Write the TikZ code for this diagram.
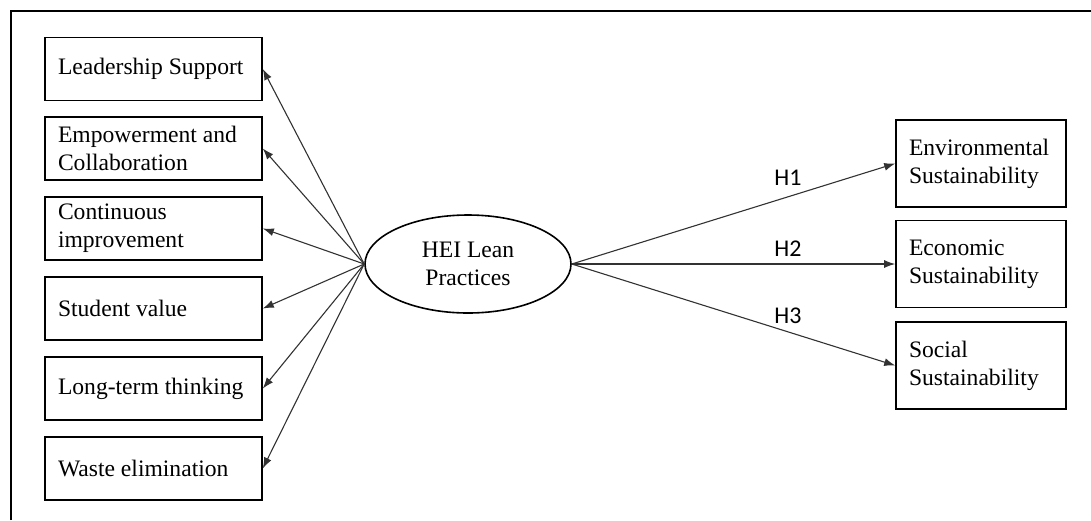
\documentclass[tikz,border=0pt]{standalone}
\usepackage{fontspec}
\setmainfont{Liberation Serif}
\newfontfamily\hypfont{Carlito}
\usetikzlibrary{shapes.geometric,arrows.meta}

\begin{document}
\begin{tikzpicture}[x=0.5pt,y=-0.5pt,
  font=\fontsize{11.8}{14}\selectfont,
  itembox/.style={draw=drawColor,line width=0.8pt,align=flush left,inner xsep=6.5pt,inner ysep=0pt,
    text width=95.5pt,minimum height=31.5pt},
  outbox/.style={itembox,text width=72pt,minimum height=43.5pt},
  latent/.style={ellipse,draw=drawColor,line width=0.8pt,inner sep=0pt,align=center,
    minimum width=103pt,minimum height=49pt},
  link/.style={draw=lineColor,line width=0.55pt,-{Latex[length=5.5pt,width=4pt]}},
  hyp/.style={font=\hypfont\fontsize{12}{14}\selectfont,inner sep=0pt}]
\definecolor{drawColor}{RGB}{0,0,0}
\definecolor{lineColor}{RGB}{50,50,50}
\path[use as bounding box] (0,0) rectangle (1091,520);

% frame
\draw[drawColor,line width=1pt] (11,520) -- (11,11) -- (1091,11);

% lean practice items
\node[itembox] (lead) at (153.5, 69.0) {Leadership Support};
\node[itembox] (empo) at (153.5,148.5) {Empowerment and\\Collaboration};
\node[itembox] (cont) at (153.5,228.5) {Continuous\\improvement};
\node[itembox] (stud) at (153.5,308.5) {Student value};
\node[itembox] (long) at (153.5,388.5) {Long-term thinking};
\node[itembox] (wast) at (153.5,468.5) {Waste elimination};

% latent construct
\node[latent] (hei) at (468,264) {HEI Lean\\Practices};

% sustainability outcomes
\node[outbox] (env) at (981,163.5) {Environmental\\Sustainability};
\node[outbox] (eco) at (981,264.0) {Economic\\Sustainability};
\node[outbox] (soc) at (981,365.5) {Social\\Sustainability};

% loadings
\draw[link] (hei.west) -- (lead.east);
\draw[link] (hei.west) -- (empo.east);
\draw[link] (hei.west) -- (cont.east);
\draw[link] (hei.west) -- (stud.east);
\draw[link] (hei.west) -- (long.east);
\draw[link] (hei.west) -- (wast.east);

% hypotheses
\draw[link] (hei.east) -- (env.west);
\draw[link] (hei.east) -- (eco.west);
\draw[link] (hei.east) -- (soc.west);

\node[hyp] (h1) at (788,177.5) {H1};
\node[hyp] (h2) at (788,249.0) {H2};
\node[hyp] (h3) at (788,315.5) {H3};
\end{tikzpicture}
\end{document}
